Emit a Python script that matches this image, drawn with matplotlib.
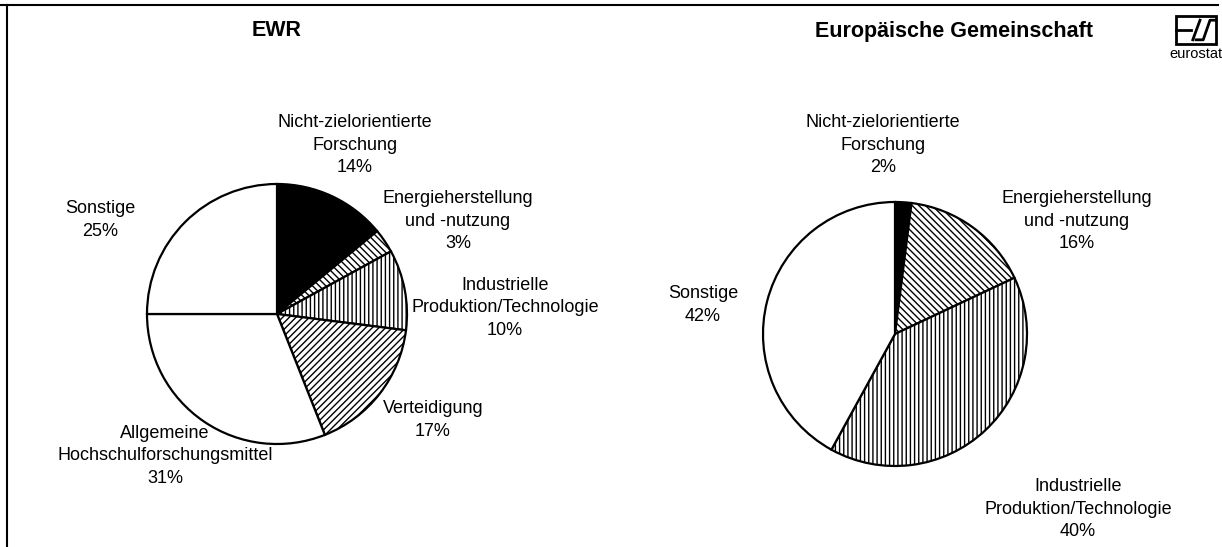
import matplotlib.pyplot as plt
from matplotlib.patches import Rectangle

plt.rcParams['font.family'] = ['Liberation Sans', 'DejaVu Sans']
plt.rcParams['hatch.linewidth'] = 1.0

W, H = 1222, 547

# EWR
ewr_labels = ["Nicht-zielorientierte\nForschung", "Energieherstellung\nund -nutzung",
              "Industrielle\nProduktion/Technologie", "Verteidigung",
              "Allgemeine\nHochschulforschungsmittel", "Sonstige"]
ewr_values = [14, 3, 10, 17, 31, 25]
ewr_colors = ["black", "white", "white", "white", "white", "white"]
ewr_hatches = ["", "\\\\\\\\\\", "||||", "/////", "", ""]

# Europaeische Gemeinschaft
eg_labels = ["Nicht-zielorientierte\nForschung", "Energieherstellung\nund -nutzung",
             "Industrielle\nProduktion/Technologie", "Sonstige"]
eg_values = [2, 16, 40, 42]
eg_colors = ["black", "white", "white", "white"]
eg_hatches = ["", "\\\\\\\\\\", "||||", ""]

# label positions in pixels (x, y from top)
ewr_pos = [(355, 145), (458, 221), (505, 308), (433, 420), (165, 456), (100, 220)]
eg_pos = [(883, 145), (1077, 221), (1078, 509), (703, 305)]

fig = plt.figure(figsize=(W / 100, H / 100), dpi=100)
ax = fig.add_axes([0, 0, 1, 1])


def Y(py):
    return H - py


def draw_pie(values, colors, hatches, labels, pos, cx, cy, r):
    ax.pie(values, colors=colors, hatch=hatches, startangle=90, counterclock=False,
           center=(cx, Y(cy)), radius=r, frame=True,
           wedgeprops=dict(edgecolor="black", linewidth=1.6))
    for lab, v, (x, y) in zip(labels, values, pos):
        ax.text(x, Y(y), f"{lab}\n{v}%", ha="center", va="center",
                fontsize=13, linespacing=1.45)


draw_pie(ewr_values, ewr_colors, ewr_hatches, ewr_labels, ewr_pos, 277, 314, 130)
draw_pie(eg_values, eg_colors, eg_hatches, eg_labels, eg_pos, 895, 334, 132)

ax.text(277, Y(31), "EWR", ha="center", va="center", fontsize=15.5, fontweight="bold")
ax.text(954, Y(31), "Europäische Gemeinschaft", ha="center", va="center",
        fontsize=15.5, fontweight="bold")

# frame lines (top and left only)
ax.plot([0, 1218], [Y(5), Y(5)], color="black", lw=1.5)
ax.plot([7, 7], [Y(5), Y(547)], color="black", lw=1.5)

# eurostat logo
bx0, bx1, by0, by1 = 1176, 1216, 16, 44
ax.add_patch(Rectangle((bx0, Y(by1)), bx1 - bx0, by1 - by0, fill=False,
                       edgecolor="black", lw=2))
bw, bh = bx1 - bx0, by1 - by0


def lp(fx, fy):
    return bx0 + fx * bw, Y(by0 + fy * bh)


for seg in [[(0, 0.5), (0.38, 0.5)],
            [(0.42, 0.85), (0.6, 0.15)],
            [(0.5, 0.85), (0.68, 0.85), (0.85, 0.15), (1.0, 0.15)]]:
    pts = [lp(*p) for p in seg]
    ax.plot([p[0] for p in pts], [p[1] for p in pts], color="black", lw=2)
ax.text(1196, Y(54), "eurostat", ha="center", va="center", fontsize=10.5)

ax.set_xlim(0, W)
ax.set_ylim(0, H)
ax.set_aspect("equal")
ax.axis("off")

fig.savefig("out.png", dpi=100, facecolor="white")
